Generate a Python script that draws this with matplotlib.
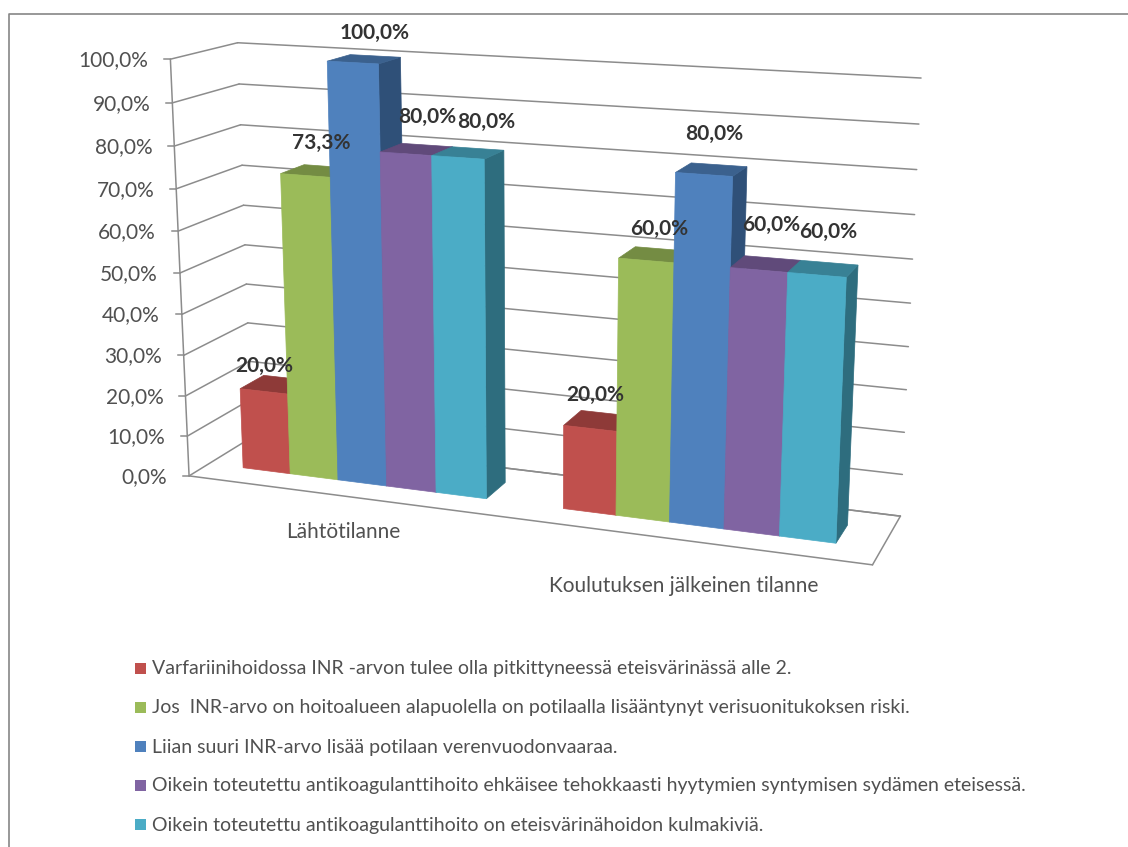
import numpy as np
import matplotlib
matplotlib.use("Agg")
import matplotlib.pyplot as plt
from matplotlib.patches import Polygon, Rectangle

plt.rcParams['font.family'] = ['Lato', 'DejaVu Sans']

# Chart data
categories = ['Lähtötilanne', 'Koulutuksen jälkeinen tilanne']
series_names = [
    'Varfariinihoidossa INR -arvon tulee olla pitkittyneessä eteisvärinässä alle 2.',
    'Jos  INR-arvo on hoitoalueen alapuolella on potilaalla lisääntynyt verisuonitukoksen riski.',
    'Liian suuri INR-arvo lisää potilaan verenvuodonvaaraa.',
    'Oikein toteutettu antikoagulanttihoito ehkäisee tehokkaasti hyytymien syntymisen sydämen eteisessä.',
    'Oikein toteutettu antikoagulanttihoito on eteisvärinähoidon kulmakiviä.',
]
red_values = [20.0, 20.0]
green_values = [73.3, 60.0]
blue_values = [100.0, 80.0]
purple_values = [80.0, 60.0]
teal_values = [80.0, 60.0]
y_ticks = [0, 10, 20, 30, 40, 50, 60, 70, 80, 90, 100]

all_values = [red_values, green_values, blue_values, purple_values, teal_values]

# front, top and side colour of each series
front_colors = ['#C0504D', '#9BBB59', '#4F81BD', '#8064A2', '#4BACC6']
top_colors = ['#8E3A38', '#748C43', '#3B618E', '#604A7A', '#388195']
side_colors = ['#7F3432', '#657A3A', '#2F5078', '#513E68', '#2E6D7E']

grid_color = '#8C8C8C'
text_color = '#505050'
label_color = '#333333'

# box corners on screen: (u, value, depth) -> pixel
box_world = np.array([
    [0, 0, 0], [1, 0, 0], [1, 0, 1], [0, 0, 1],
    [0, 1, 0], [0, 1, 1], [1, 1, 1],
], dtype=float)
box_pixels = np.array([
    [189, 475], [873, 565], [900, 516], [252, 438],
    [170, 60], [238, 42], [921, 78],
], dtype=float)


def fit_camera(world, pixels):
    rows = []
    for (a, b, c), (px, py) in zip(world, pixels):
        rows.append([a, b, c, 1, 0, 0, 0, 0, -px*a, -px*b, -px*c, -px])
        rows.append([0, 0, 0, 0, a, b, c, 1, -py*a, -py*b, -py*c, -py])
    return np.linalg.svd(np.array(rows))[2][-1].reshape(3, 4)


camera = fit_camera(box_world, box_pixels)


def project(u, pct, w):
    p = camera @ np.array([u, pct / 100.0, w, 1.0])
    return p[0] / p[2], p[1] / p[2]


fig = plt.figure(figsize=(11.28, 8.47), dpi=100)
ax = fig.add_axes([0, 0, 1, 1])
ax.set_xlim(0, 1128)
ax.set_ylim(847, 0)
ax.axis('off')

# outer chart border
ax.plot([9, 9, 1128], [847, 14, 14], color='#868686', lw=1.2)


def line3d(a, b, **kw):
    ax.plot(*zip(project(*a), project(*b)), color=grid_color,
            lw=kw.get('lw', 1.1), solid_capstyle='round', zorder=1)


# walls and floor
for t in y_ticks:
    line3d((0, t, 0), (0, t, 1))
    line3d((0, t, 1), (1, t, 1))
    x0, y0 = project(0, t, 0)
    ax.plot([x0 - 6, x0], [y0, y0], color=grid_color, lw=1.1, zorder=1)
    ax.text(x0 - 22, y0 + 1, f'{t:.1f}'.replace('.', ',') + '%', ha='right',
            va='center', fontsize=15, color=text_color)
line3d((0, 0, 0), (0, 100, 0))
line3d((0, 0, 0), (1, 0, 0))
line3d((1, 0, 0), (1, 0, 1))
line3d((1, 0, 1), (0, 0, 1))

# bar layout along the category and depth axes
bar_width = 0.0768
group_start = [0.056, 0.555]
depth_front = 0.31
depth_back = 0.69
label_offsets = [
    [(0, -25), (5, -33)],
    [(16, -32), (13, -32)],
    [(22, -30), (10, -40)],
    [(21, -37), (12, -45)],
    [(28, -35), (11, -43)],
]


def face(points, color, z):
    ax.add_patch(Polygon([project(*p) for p in points], closed=True,
                         facecolor=color, edgecolor=color, lw=0.5, zorder=z))


z = 3
for g in range(len(categories)):
    for s, values in enumerate(all_values):
        v = values[g]
        u0 = group_start[g] + s * bar_width
        u1 = u0 + bar_width
        # right side, then top, then front, so nearer faces land on top
        face([(u1, 0, depth_front), (u1, 0, depth_back),
              (u1, v, depth_back), (u1, v, depth_front)], side_colors[s], z)
        face([(u0, v, depth_front), (u1, v, depth_front),
              (u1, v, depth_back), (u0, v, depth_back)], top_colors[s], z)
        face([(u0, 0, depth_front), (u1, 0, depth_front),
              (u1, v, depth_front), (u0, v, depth_front)], front_colors[s], z)
        z += 1

# data labels sit above everything else
for g in range(len(categories)):
    for s, values in enumerate(all_values):
        v = values[g]
        u = group_start[g] + (s + 0.5) * bar_width
        x, y = project(u, v, depth_front)
        dx, dy = label_offsets[s][g]
        ax.text(x + dx, y + dy, f'{v:.1f}'.replace('.', ',') + '%', ha='center',
                va='center', fontsize=15, fontweight='bold', color=label_color,
                zorder=50)

# category labels
ax.text(343, 532, categories[0], ha='center', va='center', fontsize=15, color=text_color)
ax.text(684, 586, categories[1], ha='center', va='center', fontsize=15, color=text_color)

# legend
legend_y = [668.5, 708, 747, 786, 825]
for name, color, ly in zip(series_names, front_colors, legend_y):
    ax.add_patch(Rectangle((135, ly - 5.5), 11, 11, facecolor=color, edgecolor='none'))
    ax.text(152, ly, name, ha='left', va='center', fontsize=14, color=text_color)

fig.savefig('out.png', dpi=100)
